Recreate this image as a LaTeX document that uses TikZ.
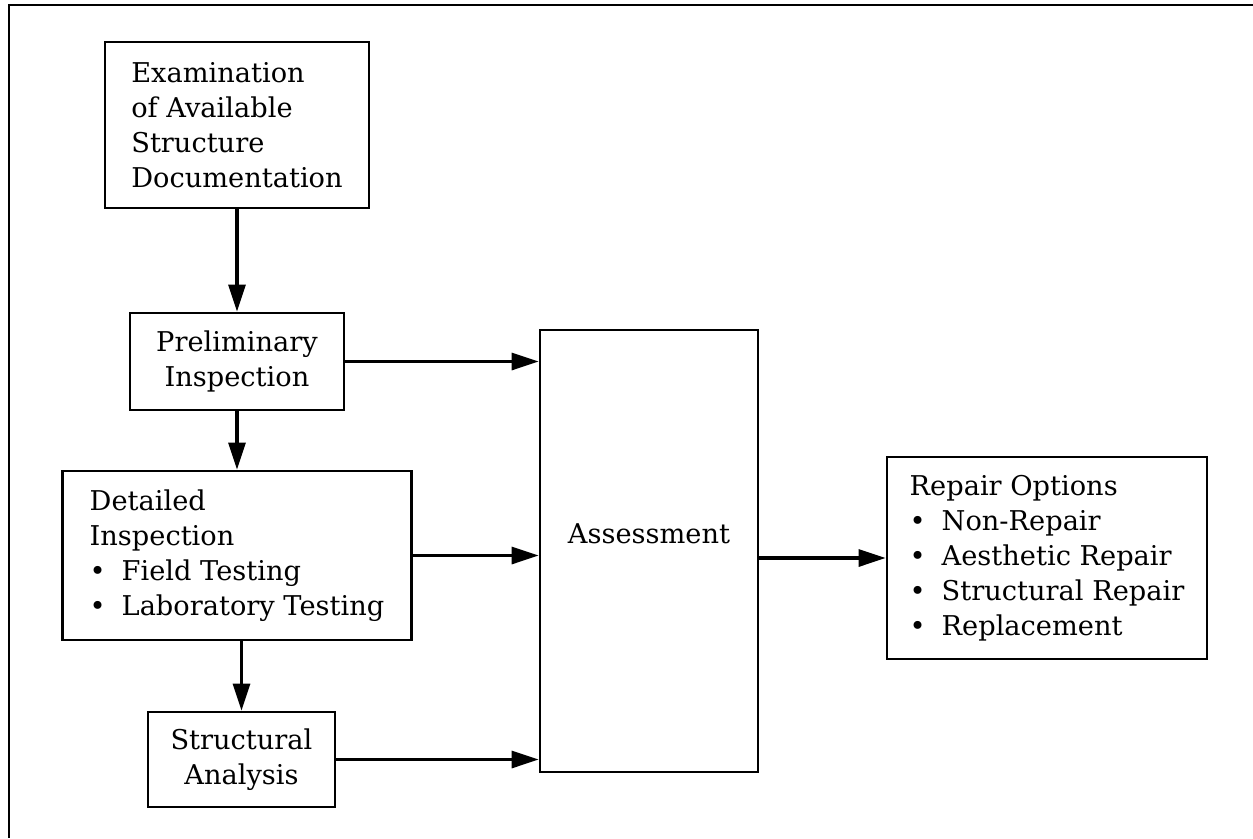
\documentclass[tikz,border=0pt]{standalone}
\usepackage{fontspec}
\setmainfont{DejaVu Serif}
\usetikzlibrary{arrows.meta}
\newcommand{\itm}[1]{\makebox[0.64cm][l]{\textbullet}#1}

\begin{document}
\begin{tikzpicture}[
        >={Triangle[length=5.4mm,width=3.4mm]},
        stage/.style={rectangle, draw, line width=1.6pt, inner sep=0pt, font=\fontsize{15.5}{19.9}\selectfont},
        flow/.style={->, line width=1.8pt},
    ]
        \useasboundingbox (0,0) rectangle (25.06,-16.76);
        % page frame
        \draw[line width=1.3pt] (25.06,-0.10) -- (0.18,-0.10) -- (0.18,-16.76);

        % Left column
        \node[stage, align=left, minimum width=5.28cm, minimum height=3.32cm] (exam) at (4.74,-2.50) {Examination\\of Available\\Structure\\Documentation};
        \node[stage, align=center, minimum width=4.28cm, minimum height=1.94cm] (prelim) at (4.74,-7.23) {Preliminary\\Inspection};
        \node[stage, align=left, minimum width=6.98cm, minimum height=3.38cm] (detail) at (4.74,-11.11) {Detailed\\Inspection\\\itm{Field Testing}\\\itm{Laboratory Testing}};
        \node[stage, align=center, minimum width=3.74cm, minimum height=1.90cm] (analysis) at (4.83,-15.19) {Structural\\Analysis};

        % Assessment and repair
        \node[stage, minimum width=4.36cm, text height=4.26cm, text depth=4.58cm] (assess) at (12.98,-11.02) {Assessment};
        \node[stage, align=left, minimum width=6.40cm, minimum height=4.04cm] (repair) at (20.94,-11.16) {Repair Options\\\itm{Non-Repair}\\\itm{Aesthetic Repair}\\\itm{Structural Repair}\\\itm{Replacement}};

        % Arrows
        \draw[flow] (exam) -- (prelim);
        \draw[flow] (prelim) -- (detail);
        \draw[flow] (detail.south -| analysis) -- (analysis);
        \draw[flow] (prelim) -- (prelim -| assess.west);
        \draw[flow] (detail) -- (detail -| assess.west);
        \draw[flow] (analysis) -- (analysis -| assess.west);
        \draw[flow] (assess.east |- repair) -- (repair);

    \end{tikzpicture}
\end{document}
